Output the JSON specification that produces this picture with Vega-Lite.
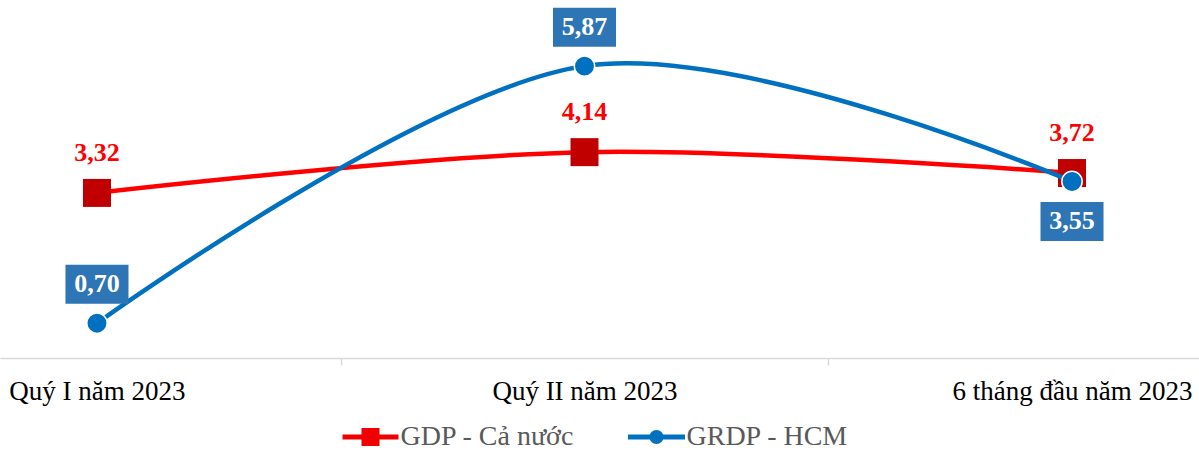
{
  "$schema": "https://vega.github.io/schema/vega-lite/v6.json",
  "autosize": {"type": "none"},
  "width": 1199,
  "height": 358,
  "padding": {"left": 0, "top": 0, "right": 0, "bottom": 93},
  "background": "white",
  "config": {
    "view": {"stroke": null},
    "locale": {"number": {"decimal": ",", "thousands": ".", "grouping": [3], "currency": ["", ""]}},
    "font": "Liberation Serif",
    "legend": {"labelFont": "Liberation Serif", "labelFontSize": 28, "labelColor": "#595959", "labelLimit": 0}
  },
  "data": {
    "values": [
      {"period": "Quý I năm 2023", "series": "GDP - Cả nước", "value": 3.32},
      {"period": "Quý II năm 2023", "series": "GDP - Cả nước", "value": 4.14},
      {"period": "6 tháng đầu năm 2023", "series": "GDP - Cả nước", "value": 3.72},
      {"period": "Quý I năm 2023", "series": "GRDP - HCM", "value": 0.70},
      {"period": "Quý II năm 2023", "series": "GRDP - HCM", "value": 5.87},
      {"period": "6 tháng đầu năm 2023", "series": "GRDP - HCM", "value": 3.55}
    ]
  },
  "encoding": {
    "x": {
      "field": "period",
      "type": "nominal",
      "scale": {"type": "point", "domain": ["Quý I năm 2023", "Quý II năm 2023", "6 tháng đầu năm 2023"], "padding": 0.2297, "align": 0.433},
      "axis": {
        "title": null,
        "labelAngle": 0,
        "labelFont": "Liberation Serif",
        "labelFontSize": 27,
        "labelColor": "#000000",
        "labelPadding": 13,
        "labelLimit": 0,
        "domainColor": "#D9D9D9",
        "domainWidth": 1.5,
        "tickColor": "#D9D9D9",
        "tickWidth": 1.5,
        "tickSize": 7,
        "tickOffset": 243.75,
        "labelOffset": -243.75,
        "grid": false
      }
    },
    "y": {
      "field": "value",
      "type": "quantitative",
      "scale": {"domain": [0, 7.2], "nice": false, "zero": true},
      "axis": null
    }
  },
  "layer": [
    {
      "transform": [{"filter": "datum.series === 'GDP - Cả nước'"}],
      "mark": {"type": "line", "interpolate": "cardinal", "strokeWidth": 4.5},
      "encoding": {
        "color": {
          "field": "series",
          "type": "nominal",
          "scale": {"domain": ["GDP - Cả nước", "GRDP - HCM"], "range": ["#FF0000", "#0070C0"]},
          "legend": {
            "orient": "none",
            "legendX": 356.5,
            "legendY": 423,
            "direction": "horizontal",
            "title": null,
            "symbolSize": 400,
            "symbolStrokeWidth": 0,
            "labelFont": "Liberation Serif",
            "labelFontSize": 28,
            "labelColor": "#595959",
            "labelLimit": 0,
            "labelOffset": 16,
            "columnPadding": 53,
            "encode": {
              "labels": {
                "update": {
                  "font": {"value": "Liberation Serif"},
                  "fontSize": {"value": 28}
                }
              },
              "symbols": {
                "update": {
                  "shape": {"signal": "datum.value === 'GDP - Cả nước' ? 'M-2.8,-0.25H2.8V0.25H-2.8Z M-0.9,-0.9H0.9V0.9H-0.9Z' : 'M-2.85,-0.25H2.85V0.25H-2.85Z M0.7,0A0.7,0.7 0 1,1 -0.7,0A0.7,0.7 0 1,1 0.7,0Z'"},
                  "fill": {"signal": "datum.value === 'GDP - Cả nước' ? '#F00000' : '#0070C0'"},
                  "stroke": {"value": "transparent"},
                  "strokeWidth": {"value": 0},
                  "opacity": {"value": 1}
                }
              }
            }
          }
        }
      }
    },
    {
      "transform": [{"filter": "datum.series === 'GDP - Cả nước'"}],
      "mark": {"type": "point", "shape": "square", "size": 784, "filled": true, "fill": "#C00000", "opacity": 1, "strokeWidth": 0}
    },
    {
      "transform": [{"filter": "datum.series === 'GRDP - HCM'"}],
      "mark": {"type": "line", "interpolate": "cardinal", "strokeWidth": 4.5},
      "encoding": {
        "color": {"field": "series", "type": "nominal"}
      }
    },
    {
      "transform": [{"filter": "datum.series === 'GRDP - HCM'"}],
      "mark": {"type": "point", "shape": "circle", "size": 415, "filled": true, "fill": "#0070C0", "stroke": "#FFFFFF", "strokeWidth": 1.5, "opacity": 1}
    },
    {
      "transform": [{"filter": "datum.series === 'GDP - Cả nước'"}],
      "mark": {"type": "text", "dy": -40, "baseline": "middle", "font": "Liberation Serif", "fontSize": 26, "fontWeight": "bold", "color": "#FF0000"},
      "encoding": {"text": {"field": "value", "type": "quantitative", "format": ".2f"}}
    },
    {
      "transform": [{"filter": "datum.series === 'GRDP - HCM' && datum.period !== '6 tháng đầu năm 2023'"}],
      "mark": {"type": "point", "shape": "M-0.808,-0.5H0.808V0.5H-0.808Z", "size": 6084, "filled": true, "fill": "#2E75B6", "opacity": 1, "strokeWidth": 0, "yOffset": -39}
    },
    {
      "transform": [{"filter": "datum.series === 'GRDP - HCM' && datum.period === '6 tháng đầu năm 2023'"}],
      "mark": {"type": "point", "shape": "M-0.808,-0.5H0.808V0.5H-0.808Z", "size": 6084, "filled": true, "fill": "#2E75B6", "opacity": 1, "strokeWidth": 0, "yOffset": 40}
    },
    {
      "transform": [{"filter": "datum.series === 'GRDP - HCM' && datum.period !== '6 tháng đầu năm 2023'"}],
      "mark": {"type": "text", "dy": -39, "baseline": "middle", "font": "Liberation Serif", "fontSize": 26, "fontWeight": "bold", "color": "#FFFFFF"},
      "encoding": {"text": {"field": "value", "type": "quantitative", "format": ".2f"}}
    },
    {
      "transform": [{"filter": "datum.series === 'GRDP - HCM' && datum.period === '6 tháng đầu năm 2023'"}],
      "mark": {"type": "text", "dy": 40, "baseline": "middle", "font": "Liberation Serif", "fontSize": 26, "fontWeight": "bold", "color": "#FFFFFF"},
      "encoding": {"text": {"field": "value", "type": "quantitative", "format": ".2f"}}
    }
  ]
}
